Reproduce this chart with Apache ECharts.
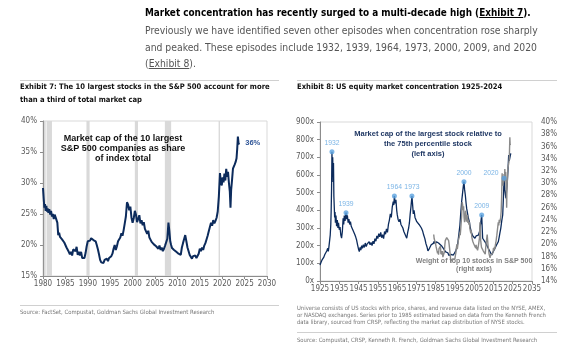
<!DOCTYPE html>
<html>
<head>
<meta charset="utf-8">
<script src="https://cdn.jsdelivr.net/npm/echarts@6/dist/echarts.min.js"></script>
<style>
body { margin:0; width:561px; height:350px; background:#fff; overflow:hidden; position:relative;
       font-family:"Liberation Sans Narrow","DejaVu Sans Condensed","Liberation Sans",sans-serif; }
#chart { position:absolute; left:0; top:0; width:561px; height:350px; }
.txt { position:absolute; white-space:nowrap; }
.rule { position:absolute; height:0; border-top:1.5px solid #d0d0d0; }
#head { left:145px; top:4px; font-size:10.3px; line-height:16.8px; color:#555; }
#head b { color:#000; font-size:9.9px; }
#head u { text-decoration:underline; }
.extitle { font-size:7.6px; line-height:13px; font-weight:bold; color:#111; }
.small { font-size:5.9px; line-height:7.2px; color:#777; }
</style>
</head>
<body>
<div id="chart"></div>

<div id="head" class="txt">
  <b>Market concentration has recently surged to a multi-decade high (<u>Exhibit 7</u>).</b><br>
  Previously we have identified seven other episodes when concentration rose sharply<br>
  and peaked. These episodes include 1932, 1939, 1964, 1973, 2000, 2009, and 2020<br>
  (<u>Exhibit 8</u>).
</div>
<div class="rule" style="left:20px; top:80px; width:259px;"></div>
<div class="rule" style="left:297px; top:80px; width:260px;"></div>

<div class="txt extitle" style="left:20px; top:80px;">Exhibit 7: The 10 largest stocks in the S&amp;P 500 account for more<br>than a third of total market cap</div>
<div class="txt extitle" style="left:297px; top:80px;">Exhibit 8: US equity market concentration 1925-2024</div>

<div class="rule" style="left:20px; top:305px; width:259px;"></div>
<div class="txt small" style="left:20px; top:309px;">Source: FactSet, Compustat, Goldman Sachs Global Investment Research</div>

<div class="txt small" style="left:297px; top:305px; font-size:5.85px;">Universe consists of US stocks with price, shares, and revenue data listed on the NYSE, AMEX,<br>or NASDAQ exchanges. Series prior to 1985 estimated based on data from the Kenneth French<br>data library, sourced from CRSP, reflecting the market cap distribution of NYSE stocks.</div>
<div class="rule" style="left:297px; top:332px; width:260px;"></div>
<div class="txt small" style="left:297px; top:337px;">Source: Compustat, CRSP, Kenneth R. French, Goldman Sachs Global Investment Research</div>

<script>
// Exhibit 7: share of S&P 500 market cap held by the 10 largest stocks (%)
var top10Year = [
  1980.0, 1980.15, 1980.3, 1980.45, 1980.6, 1980.75, 1980.9, 1981.05, 1981.2, 1981.4, 1981.6, 1981.8,
  1982.0, 1982.2, 1982.4, 1982.6, 1982.8, 1983.0, 1983.2, 1983.4, 1983.6, 1983.8,
  1984.0, 1984.25, 1984.5, 1984.75, 1985.0, 1985.25, 1985.5, 1985.75, 1986.0, 1986.25, 1986.5, 1986.75,
  1987.0, 1987.25, 1987.5, 1987.75, 1988.0, 1988.25, 1988.5, 1988.75, 1989.0, 1989.25, 1989.5, 1989.75,
  1990.0, 1990.25, 1990.5, 1990.75, 1991.0, 1991.25, 1991.5, 1991.75, 1992.0, 1992.25, 1992.5, 1992.75,
  1993.0, 1993.25, 1993.5, 1993.75, 1994.0, 1994.25, 1994.5, 1994.75, 1995.0, 1995.25, 1995.5, 1995.75,
  1996.0, 1996.25, 1996.5, 1996.75, 1997.0, 1997.25, 1997.5, 1997.75, 1998.0, 1998.25, 1998.5, 1998.75,
  1999.0, 1999.25, 1999.5, 1999.75, 2000.0, 2000.25, 2000.5, 2000.75, 2001.0, 2001.25, 2001.5, 2001.75,
  2002.0, 2002.25, 2002.5, 2002.75, 2003.0, 2003.25, 2003.5, 2003.75, 2004.0, 2004.25, 2004.5, 2004.75,
  2005.0, 2005.25, 2005.5, 2005.75, 2006.0, 2006.25, 2006.5, 2006.75, 2007.0, 2007.25, 2007.5, 2007.75,
  2008.0, 2008.2, 2008.4, 2008.6, 2008.8, 2009.0, 2009.25, 2009.5, 2009.75,
  2010.0, 2010.25, 2010.5, 2010.75, 2011.0, 2011.25, 2011.5, 2011.75, 2012.0, 2012.25, 2012.5, 2012.75,
  2013.0, 2013.25, 2013.5, 2013.75, 2014.0, 2014.25, 2014.5, 2014.75, 2015.0, 2015.25, 2015.5, 2015.75,
  2016.0, 2016.25, 2016.5, 2016.75, 2017.0, 2017.25, 2017.5, 2017.75, 2018.0, 2018.25, 2018.5, 2018.75,
  2019.0, 2019.25, 2019.5, 2019.7, 2019.9, 2020.1, 2020.3, 2020.5, 2020.7, 2020.9, 2021.1, 2021.3,
  2021.5, 2021.7, 2021.85, 2022.0, 2022.2, 2022.4, 2022.6, 2022.8, 2023.0, 2023.2, 2023.35, 2023.5,
  2023.65, 2023.8
];
var top10Share = [
  29.2, 27.5, 26.0, 26.6, 25.5, 26.3, 25.4, 25.9, 25.2, 25.8, 24.9, 25.5,
  24.6, 25.0, 24.2, 24.9, 24.5, 24.8, 23.6, 21.6, 22.0, 21.3,
  21.6, 20.9, 21.2, 20.4, 20.5, 19.6, 19.9, 18.9, 18.5, 18.9, 18.3, 19.3,
  19.6, 19.0, 19.7, 18.4, 18.9, 18.3, 18.9, 17.9, 17.6, 17.9, 18.7, 19.8,
  20.6, 20.9, 20.7, 21.1, 21.3, 20.8, 20.9, 20.6, 20.0, 19.3, 18.5, 17.6,
  17.2, 17.5, 17.1, 17.6, 17.4, 17.8, 17.4, 17.9, 17.6, 18.2, 18.6, 19.4,
  20.0, 19.2, 19.8, 20.6, 20.3, 21.2, 21.9, 21.5, 22.4, 23.5, 24.6, 26.9,
  26.5, 25.6, 26.2, 24.4, 23.6, 24.3, 25.5, 24.9, 23.7, 24.2, 24.8, 23.5,
  24.0, 23.2, 23.7, 22.6, 22.9, 21.8, 22.3, 21.2, 21.0, 20.5, 20.8, 20.1,
  20.3, 19.8, 20.0, 19.4, 19.9, 19.2, 19.6, 19.0, 19.4, 19.9, 19.6, 21.0,
  23.6, 22.3, 20.6, 20.0, 19.5, 19.8, 19.2, 19.5, 18.9,
  19.2, 18.6, 18.9, 18.4, 19.6, 20.3, 20.1, 21.6, 20.6, 19.6, 19.0, 18.4,
  18.2, 17.8, 18.2, 17.9, 18.3, 17.9, 18.1, 18.6, 19.4, 19.0, 19.6, 19.2,
  19.9, 20.3, 20.9, 21.5, 22.2, 22.9, 23.6, 23.1, 24.0, 23.5, 23.9, 24.4,
  25.4, 27.8, 31.6, 30.2, 29.6, 30.9, 30.1, 31.5, 30.4, 32.3, 31.0, 31.8,
  30.0, 28.6, 26.0, 28.9, 30.5, 32.3, 32.6, 33.0, 33.4, 34.0, 35.5, 37.5,
  36.4, 36.2
];
// recession shading [start, end]
var recessions = [[1980.2, 1980.6], [1980.8, 1982.0], [1989.7, 1990.4], [2000.5, 2001.2], [2007.2, 2008.6], [2019.2, 2019.5]];

// Exhibit 8: market cap of largest stock relative to 75th percentile stock (x)
var largestYear = [
  1925.0, 1925.5, 1926.0, 1926.5, 1927.0, 1927.5, 1928.0, 1928.5, 1929.0, 1929.3, 1929.6, 1930.0,
  1930.3, 1930.6, 1930.8, 1931.0, 1931.2, 1931.4, 1931.6, 1931.8, 1932.0, 1932.2, 1932.4, 1932.6,
  1932.8, 1933.0, 1933.3, 1933.6, 1934.0, 1934.3, 1934.6, 1935.0, 1935.4, 1935.8, 1936.2, 1936.6,
  1937.0, 1937.3, 1937.6, 1938.0, 1938.5, 1938.8, 1939.2, 1939.6, 1940.0, 1940.4, 1940.8, 1941.2,
  1941.6, 1942.0, 1942.5, 1943.0, 1943.5, 1944.0, 1944.5, 1945.0, 1945.4, 1945.8, 1946.2, 1946.6,
  1947.0, 1947.5, 1948.0, 1948.5, 1949.0, 1949.5, 1950.0, 1950.5, 1951.0, 1951.5, 1952.0, 1952.5,
  1953.0, 1953.5, 1954.0, 1954.5, 1955.0, 1955.5, 1956.0, 1956.5, 1957.0, 1957.5, 1958.0, 1958.5,
  1959.0, 1959.5, 1960.0, 1960.5, 1961.0, 1961.5, 1962.0, 1962.5, 1963.0, 1963.3, 1963.6, 1964.0,
  1964.4, 1964.8, 1965.1, 1965.5, 1966.0, 1966.5, 1967.0, 1967.5, 1968.0, 1968.5, 1969.0, 1969.5,
  1970.0, 1970.5, 1971.0, 1971.4, 1971.8, 1972.2, 1972.7, 1973.0, 1973.4, 1973.8, 1974.3, 1974.8,
  1975.2, 1975.8, 1976.4, 1977.0, 1977.6, 1978.2, 1978.8, 1979.4, 1980.0, 1980.5, 1981.0, 1981.3,
  1981.8, 1982.2, 1982.7, 1983.2, 1983.8, 1984.3, 1984.8, 1985.4, 1986.0, 1986.5, 1987.0, 1987.5,
  1988.0, 1988.6, 1989.0, 1989.6, 1990.2, 1990.7, 1991.3, 1991.9, 1992.5, 1993.0, 1993.6, 1994.2,
  1994.8, 1995.4, 1995.9, 1996.5, 1997.0, 1997.6, 1998.0, 1998.5, 1999.0, 1999.4, 1999.7, 2000.0,
  2000.4, 2000.8, 2001.1, 2001.6, 2002.0, 2002.5, 2003.0, 2003.7, 2004.3, 2004.9, 2005.4, 2006.0,
  2006.6, 2007.2, 2007.8, 2008.3, 2008.9, 2009.2, 2009.4, 2009.9, 2010.6, 2011.2, 2011.8, 2012.3,
  2012.9, 2013.5, 2014.1, 2014.6, 2015.2, 2015.8, 2016.4, 2017.0, 2017.5, 2018.0, 2018.4, 2018.8,
  2019.3, 2019.8, 2020.2, 2020.5, 2020.9, 2021.2, 2021.5, 2021.8, 2022.2, 2022.5, 2022.9, 2023.2,
  2023.6, 2024.0
];
var largestMultiple = [
  90, 105, 118, 112, 135, 150, 142, 170, 185, 168, 190, 230,
  260, 320, 400, 520, 732, 610, 700, 560, 668, 480, 420, 360,
  390, 330, 370, 310, 345, 300, 330, 290, 305, 260, 243, 280,
  355, 320, 370, 340, 387, 350, 372, 330, 350, 320, 336, 310,
  320, 290, 300, 265, 250, 232, 205, 180, 166, 190, 175, 200,
  185, 205, 190, 215, 195, 210, 200, 222, 205, 218, 200, 225,
  210, 240, 225, 255, 240, 268, 250, 275, 245, 262, 240, 280,
  265, 295, 275, 320, 345, 380, 360, 420, 450, 430, 481, 440,
  460, 400, 374, 350, 336, 350, 320, 330, 300, 280, 290, 255,
  242, 275, 300, 330, 380, 420, 481, 440, 380, 400, 360, 370,
  336, 345, 320, 330, 300, 285, 260, 240, 210, 194, 170, 166,
  185, 194, 205, 200, 213, 225, 210, 222, 230, 215, 225, 213,
  200, 195, 185, 175, 165, 157, 160, 145, 138, 150, 140, 147,
  155, 170, 185, 215, 260, 317, 380, 449, 500, 540, 562, 520,
  487, 440, 411, 380, 355, 336, 300, 270, 255, 262, 242, 255,
  250, 260, 280, 320, 374, 290, 242, 235, 222, 210, 200, 185,
  175, 160, 147, 160, 170, 185, 200, 210, 222, 250, 275, 298,
  340, 374, 480, 581, 520, 490, 468, 510, 562, 620, 713, 680,
  703, 722
];
// labelled concentration peaks
var episodeLabels = ['1932', '1939', '1964', '1973', '2000', '2009', '2020'];
var episodeX = [1931.2, 1938.5, 1963.6, 1972.7, 1999.7, 2008.9, 2020.5];
var episodeY = [732, 387, 481, 481, 562, 374, 581];

var NAVY = '#0c2b5c';
var LIGHT_BLUE = '#5ba3e0';
var GREY_LINE = '#8a8a8a';
var AXIS_TXT = '#595959';
var NARROW = '"Liberation Sans Narrow","DejaVu Sans Condensed",sans-serif';
var ARIAL = '"Liberation Sans",Arial,sans-serif';

function pairs(xs, ys) {
    var out = [];
    for (var i = 0; i < xs.length; i++) {
        out.push([xs[i], ys[i]]);
    }
    return out;
}

var top10Data = pairs(top10Year, top10Share);
var largestData = pairs(largestYear, largestMultiple);
var top10Overlay = top10Data.filter(function (d) { return d[0] >= 1984; });

var episodeData = [];
for (var i = 0; i < episodeX.length; i++) {
    var item = { value: [episodeX[i], episodeY[i]] };
    if (episodeLabels[i] === '2020') {
        item.label = { position: 'left', offset: [0, -5] };
    }
    episodeData.push(item);
}

var recessionAreas = recessions.map(function (r) {
    return [{ xAxis: r[0] }, { xAxis: r[1] }];
});

function axisLabel(fmt) {
    return { fontSize: 8, color: AXIS_TXT, fontFamily: NARROW, formatter: fmt };
}

var chart = echarts.init(document.getElementById('chart'));

var option = {
    animation: false,
    grid: [
        { left: 43, top: 121, width: 224, height: 155, show: true, borderColor: '#d9d9d9', borderWidth: 1 },
        { left: 320, top: 122, width: 212, height: 159, show: true, borderColor: '#d9d9d9', borderWidth: 1 }
    ],
    xAxis: [
        {
            gridIndex: 0, type: 'value', min: 1980, max: 2030, interval: 5,
            axisLine: { lineStyle: { color: '#8c8c8c' } },
            axisTick: { length: 3, lineStyle: { color: '#8c8c8c' } },
            axisLabel: Object.assign(axisLabel(function (v) { return String(v); }), { margin: 4 }),
            splitLine: { show: false }
        },
        {
            gridIndex: 1, type: 'value', min: 1925, max: 2035, interval: 10,
            axisLine: { lineStyle: { color: '#8c8c8c' } },
            axisTick: { length: 3, lineStyle: { color: '#8c8c8c' } },
            axisLabel: Object.assign(axisLabel(function (v) { return String(v); }), { margin: 4 }),
            splitLine: { show: false }
        }
    ],
    yAxis: [
        {
            gridIndex: 0, type: 'value', min: 15, max: 40, interval: 5,
            axisLine: { show: true, lineStyle: { color: '#8c8c8c' } },
            axisTick: { show: true, length: 3, lineStyle: { color: '#8c8c8c' } },
            axisLabel: Object.assign(axisLabel('{value}%'), { margin: 6 }),
            splitLine: { show: false }
        },
        {
            gridIndex: 1, type: 'value', min: 0, max: 900, interval: 100,
            axisLine: { show: true, lineStyle: { color: '#8c8c8c' } },
            axisTick: { show: true, length: 3, lineStyle: { color: '#8c8c8c' } },
            axisLabel: Object.assign(axisLabel('{value}x'), { margin: 6 }),
            splitLine: { show: false }
        },
        {
            gridIndex: 1, type: 'value', position: 'right', min: 14, max: 40, interval: 2,
            axisLine: { show: false },
            axisTick: { show: false },
            axisLabel: Object.assign(axisLabel('{value}%'), { margin: 9 }),
            splitLine: { show: false }
        }
    ],
    series: [
        {
            name: 'Top 10 share',
            type: 'line',
            xAxisIndex: 0, yAxisIndex: 0,
            data: top10Data,
            showSymbol: false,
            lineStyle: { color: NAVY, width: 2 },
            itemStyle: { color: NAVY },
            endLabel: {
                show: true, distance: 6,
                formatter: function (p) { return Math.round(p.value[1]) + '%'; },
                color: '#2f5597', fontWeight: 'bold', fontSize: 7.5, fontFamily: ARIAL, offset: [0, -2]
            },
            markArea: {
                silent: true,
                itemStyle: { color: '#d9d9d9' },
                data: recessionAreas
            },
            z: 3
        },
        {
            name: 'Largest vs 75th pct',
            type: 'line',
            xAxisIndex: 1, yAxisIndex: 1,
            data: largestData,
            showSymbol: false,
            lineStyle: { color: NAVY, width: 1.3 },
            z: 2
        },
        {
            name: 'Weight of top 10',
            type: 'line',
            xAxisIndex: 1, yAxisIndex: 2,
            data: top10Overlay,
            showSymbol: false,
            lineStyle: { color: GREY_LINE, width: 1.4 },
            z: 3
        },
        {
            name: 'Episodes',
            type: 'scatter',
            xAxisIndex: 1, yAxisIndex: 1,
            data: episodeData,
            symbolSize: 5,
            itemStyle: { color: LIGHT_BLUE },
            label: {
                show: true, position: 'top', distance: 3,
                formatter: function (p) { return episodeLabels[p.dataIndex]; },
                color: LIGHT_BLUE, fontSize: 6.8, fontFamily: ARIAL
            },
            z: 5
        }
    ],
    graphic: [
        {
            type: 'text', x: 123, y: 133, z: 10,
            style: {
                text: 'Market cap of the 10 largest\nS&P 500 companies as share\nof index total',
                textAlign: 'center', fill: '#111', font: 'bold 9px "Liberation Sans", Arial, sans-serif',
                lineHeight: 10.3
            }
        },
        {
            type: 'text', x: 428, y: 129, z: 10,
            style: {
                text: 'Market cap of the largest stock relative to\nthe 75th percentile stock\n(left axis)',
                textAlign: 'center', fill: '#203864', font: 'bold 7.5px "Liberation Sans", Arial, sans-serif',
                lineHeight: 9.8
            }
        },
        {
            type: 'text', x: 474, y: 257, z: 10,
            style: {
                text: 'Weight of top 10 stocks in S&P 500\n(right axis)',
                textAlign: 'center', fill: '#7f7f7f', font: 'bold 7px "Liberation Sans", Arial, sans-serif',
                lineHeight: 8.3
            }
        }
    ]
};

chart.setOption(option);
</script>
</body>
</html>
